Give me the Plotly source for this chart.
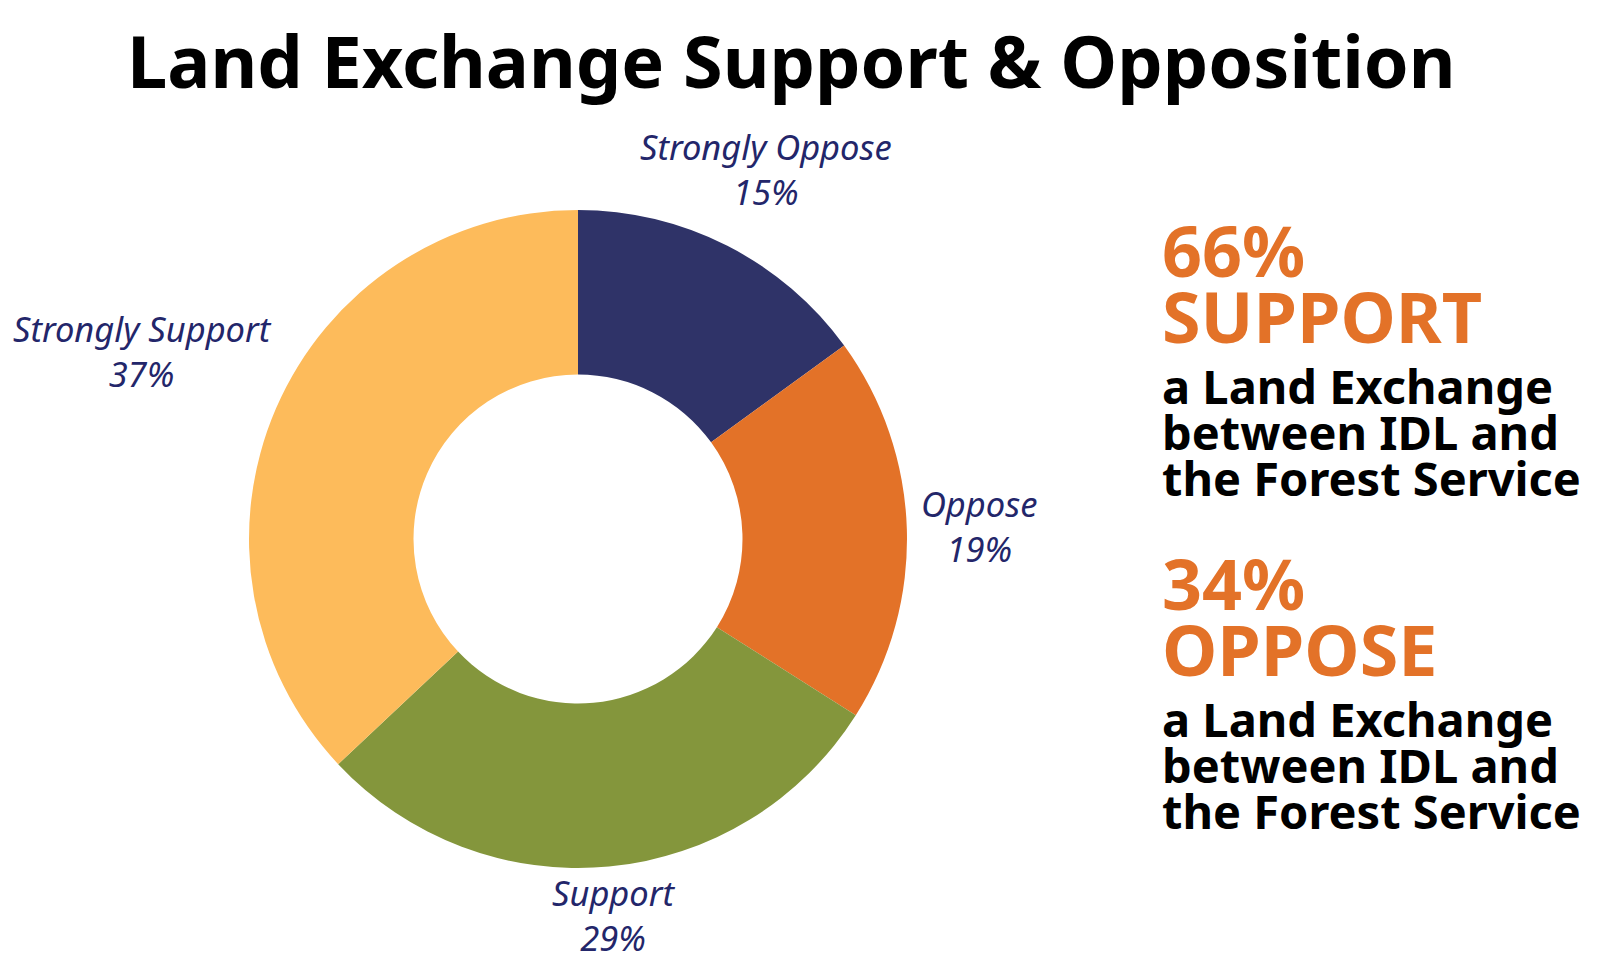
import math
import plotly.graph_objects as go

labels = ["Strongly Oppose", "Oppose", "Support", "Strongly Support"]
values = [15, 19, 29, 37]
colors = ["#2f3368", "#e37228", "#84963c", "#fdbb5b"]

title_text = "Land Exchange Support & Opposition"
support_pct = values[2] + values[3]
oppose_pct = values[0] + values[1]
body_lines = ["a Land Exchange", "between IDL and", "the Forest Service"]

W, H = 1600, 968
ORANGE = "#e37228"
NAVY = "#23266a"
FONT = "Noto Sans"

# pie geometry (px)
CX, CY, R = 570, 531, 329
label_radius = [415, 401, 378, 474]

fig = go.Figure(go.Pie(
    labels=labels,
    values=values,
    marker=dict(colors=colors),
    hole=0.5,
    sort=False,
    direction="clockwise",
    rotation=0,
    textinfo="none",
    hoverinfo="label+percent",
    domain=dict(x=[(CX - R) / W, (CX + R) / W], y=[1 - (CY + R) / H, 1 - (CY - R) / H]),
    showlegend=False,
))

annotations = [dict(
    text=f"<b>{title_text}</b>", x=783 / W, y=1 - 52 / H, xref="paper", yref="paper",
    xanchor="center", yanchor="middle", showarrow=False,
    font=dict(family=FONT, size=72, color="#000000"),
)]

# slice labels placed outward along each slice's mid-angle
total = sum(values)
start = 0.0
for lab, val, dist in zip(labels, values, label_radius):
    mid = (start + val / 2) / total * 2 * math.pi
    start += val
    px = CX + dist * math.sin(mid)
    py = CY - dist * math.cos(mid)
    annotations.append(dict(
        text=f"{lab}<br>{val}%", x=px / W, y=1 - py / H, xref="paper", yref="paper",
        xanchor="center", yanchor="middle", showarrow=False,
        font=dict(family=FONT, size=34.5, color=NAVY, style="italic"),
    ))


def add_block(pct, word, top):
    rows = [(f"{pct}%", top, ORANGE, 70), (word, top + 66, ORANGE, 70)]
    for i, line in enumerate(body_lines):
        rows.append((line, top + 136 + i * 46, "#000000", 47))
    for txt, yc, col, size in rows:
        annotations.append(dict(
            text=f"<b>{txt}</b>", x=1152 / W, y=1 - yc / H, xref="paper", yref="paper",
            xanchor="left", yanchor="middle", showarrow=False,
            font=dict(family=FONT, size=size, color=col),
        ))


add_block(support_pct, "SUPPORT", 242)
add_block(oppose_pct, "OPPOSE", 575)

fig.update_layout(
    width=W, height=H,
    margin=dict(l=0, r=0, t=0, b=0),
    paper_bgcolor="white",
    plot_bgcolor="white",
    annotations=annotations,
)

fig.write_html("out.html")
